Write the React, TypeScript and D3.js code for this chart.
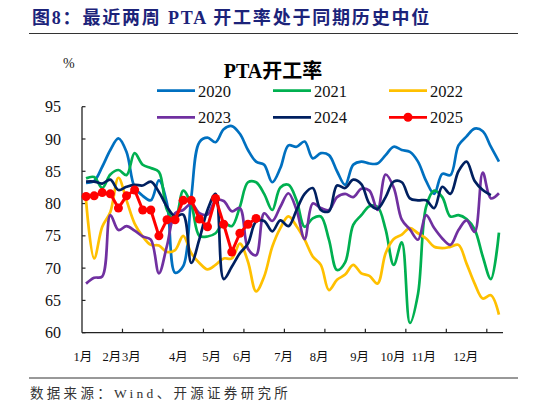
import * as d3 from "d3";

// weekly PTA operating rate, %
const s2020 = [83.2, 83.5, 85.7, 88.3, 90.1, 88, 82.5, 81.2, 80.5, 83.6, 80, 69.3, 70.3, 81, 89.5, 90.2, 89.5, 91.5, 92, 90.8, 88.3, 86.5, 86, 83.3, 85.5, 89, 88.8, 89.6, 87, 87.8, 87.5, 85, 82.9, 86, 86.5, 86.2, 86.2, 87.5, 88.8, 88.3, 88, 86.5, 83.5, 81.5, 84.6, 84.4, 89, 90.4, 91.6, 91.2, 88.8, 86.5];
const s2021 = [83.9, 84.1, 82.4, 84.5, 85.2, 84.4, 87.8, 86, 85.5, 84.9, 79, 77.5, 82, 79.8, 75, 74.9, 75.4, 77, 76.5, 79.5, 83.3, 83.3, 81.5, 79, 82.5, 82.9, 80.5, 76.4, 77.7, 78, 74.4, 69.7, 70.9, 76.7, 78.2, 79.6, 79.5, 76, 70.5, 74, 61.5, 66, 79.5, 82, 81, 78, 78.2, 77.6, 76, 71.8, 68.3, 75.5];
const s2022 = [80.5, 71.5, 76.4, 78.7, 84, 80.5, 76.9, 74.9, 73.6, 73.5, 72.5, 72.8, 75, 72.3, 70.8, 69.8, 70.5, 71.5, 71.5, 73.8, 71, 66.4, 68.7, 73.3, 76.2, 78, 76.5, 74.4, 71.8, 70.5, 66.6, 68.2, 69, 70.5, 69.2, 68.8, 67.6, 72.3, 74.5, 75.2, 76.2, 75.4, 74.6, 73.3, 73.1, 73.3, 73.6, 70.7, 67.6, 65.3, 65.8, 62.8];
const s2023 = [67.6, 68.5, 68.7, 78.2, 75.9, 76.5, 75.8, 74.9, 74.4, 69.2, 73.5, 78.5, 79, 80, 78.5, 78.3, 80.5, 80.4, 78.8, 79.3, 73, 72, 78.5, 77.3, 79.5, 81.6, 79, 74.5, 80, 79.3, 79, 81, 81.5, 81, 82.3, 82, 79, 84.5, 82.5, 77.5, 76, 74.4, 78.2, 76.2, 74.6, 73.6, 75.9, 77.4, 75.6, 84.8, 80.8, 81.6];
const s2024 = [83.4, 83.4, 83.1, 83.7, 82.1, 82.6, 82.9, 82.8, 83.4, 81.8, 79.5, 78, 78.3, 70.8, 74.5, 79, 81.5, 68.3, 70.2, 72.3, 73.8, 77.2, 77.3, 75.7, 77.4, 76.5, 79, 81.5, 82.4, 79, 78.8, 82.8, 82.4, 83.7, 83, 80, 79.2, 81, 83.4, 83.3, 80.8, 80.5, 80.5, 79.3, 82.6, 81.5, 85, 86.5, 83.5, 82.1, 81.3];
const s2025 = [81.1, 81.2, 81.7, 81.5, 79.3, 81.2, 82.1, 79, 79, 75, 77.5, 77.5, 80.5, 80.5, 77.6, 76.4, 80.8, 76.8, 72.5, 75.4, 76.8, 77.7];

const seriesNames = ["2020", "2021", "2022", "2023", "2024", "2025"];
const seriesColors = ["#0070C0", "#00B050", "#FFC000", "#7030A0", "#002060", "#FF0000"];
const seriesData = [s2020, s2021, s2022, s2023, s2024, s2025];

const yTicks = [60, 65, 70, 75, 80, 85, 90, 95];
const monthLabels = ["1月", "2月", "3月", "4月", "5月", "6月", "7月", "8月", "9月", "10月", "11月", "12月"];
const monthLabelWeek = [0.1, 3.7, 6.1, 11.9, 16.0, 19.8, 24.9, 29.3, 34.3, 38.4, 42.2, 47.4];
const weekCount = 52;

const serif = "Liberation Serif, Times New Roman, DejaVu Serif, Noto Sans CJK SC, serif";

export default function App() {
  const W = 546;
  const H = 408;
  const x = d3.scaleLinear().domain([0, weekCount]).range([82, 503]);
  const y = d3.scaleLinear().domain([60, 95]).range([332.7, 106.7]);

  const smooth = d3
    .line<number>()
    .x((_, i) => x(i + 0.5))
    .y((d) => y(d))
    .curve(d3.curveCatmullRom.alpha(0.5));
  const straight = d3
    .line<number>()
    .x((_, i) => x(i + 0.5))
    .y((d) => y(d));

  const xTicks = d3.range(5, weekCount, 5);
  const legendCols = [157, 273, 389];
  const legendRows = [90.7, 117.3];

  return (
    <svg
      width={W}
      height={H}
      viewBox={`0 0 ${W} ${H}`}
      style={{ position: "absolute", left: 0, top: 0, background: "#fff", fontFamily: serif }}
    >
      <text x={32} y={24} fontWeight="bold" fontSize={18} letterSpacing={1.8} fill="#1c237a">
        图8：最近两周 PTA 开工率处于同期历史中位
      </text>
      <line x1={29} x2={518} y1={33.5} y2={33.5} stroke="#333" strokeWidth={1} />

      <text x={63} y={68} fontSize={14} fill="#222">
        %
      </text>
      <text x={273} y={78} textAnchor="middle" fontWeight="bold" fontSize={20} fill="#000">
        PTA开工率
      </text>

      {seriesNames.map((name, k) => {
        const lx = legendCols[k % 3];
        const ly = legendRows[Math.floor(k / 3)];
        return (
          <g key={name}>
            <line x1={lx} x2={lx + 38} y1={ly} y2={ly} stroke={seriesColors[k]} strokeWidth={2.7} />
            {k === 5 && <circle cx={lx + 19} cy={ly} r={4.5} fill={seriesColors[k]} />}
            <text x={lx + 41} y={ly + 6} fontSize={16.5} fill="#111">
              {name}
            </text>
          </g>
        );
      })}

      {/* axes */}
      <line x1={x(0)} x2={x(0)} y1={y(95)} y2={y(60)} stroke="#222" strokeWidth={1.3} />
      <line x1={x(0)} x2={x(weekCount)} y1={y(60)} y2={y(60)} stroke="#222" strokeWidth={1.3} />
      {yTicks.map((t) => (
        <g key={t}>
          <line x1={x(0)} x2={x(0) + 3.5} y1={y(t)} y2={y(t)} stroke="#222" strokeWidth={1.2} />
          <text x={61} y={y(t)} dy="0.35em" textAnchor="end" fontSize={16} fill="#111">
            {t}
          </text>
        </g>
      ))}
      {xTicks.map((t) => (
        <line key={t} x1={x(t)} x2={x(t)} y1={y(60)} y2={y(60) - 4} stroke="#222" strokeWidth={1.2} />
      ))}
      {monthLabels.map((m, k) => (
        <text key={m} x={x(monthLabelWeek[k])} y={361} textAnchor="middle" fontSize={12.5} fill="#111">
          {m}
        </text>
      ))}

      {/* series */}
      {seriesData.slice(0, 5).map((d, k) => (
        <path
          key={seriesNames[k]}
          d={smooth(d) ?? ""}
          fill="none"
          stroke={seriesColors[k]}
          strokeWidth={2.7}
          strokeLinejoin="round"
        />
      ))}
      <path d={straight(s2025) ?? ""} fill="none" stroke={seriesColors[5]} strokeWidth={3} />
      {s2025.map((v, i) => (
        <circle key={i} cx={x(i + 0.5)} cy={y(v)} r={4.5} fill={seriesColors[5]} />
      ))}

      <line x1={29} x2={518} y1={378} y2={378} stroke="#333" strokeWidth={1} />
      <text x={30} y={398} fontSize={13.5} letterSpacing={3.3} fill="#333">
        数据来源：Wind、开源证券研究所
      </text>
    </svg>
  );
}
